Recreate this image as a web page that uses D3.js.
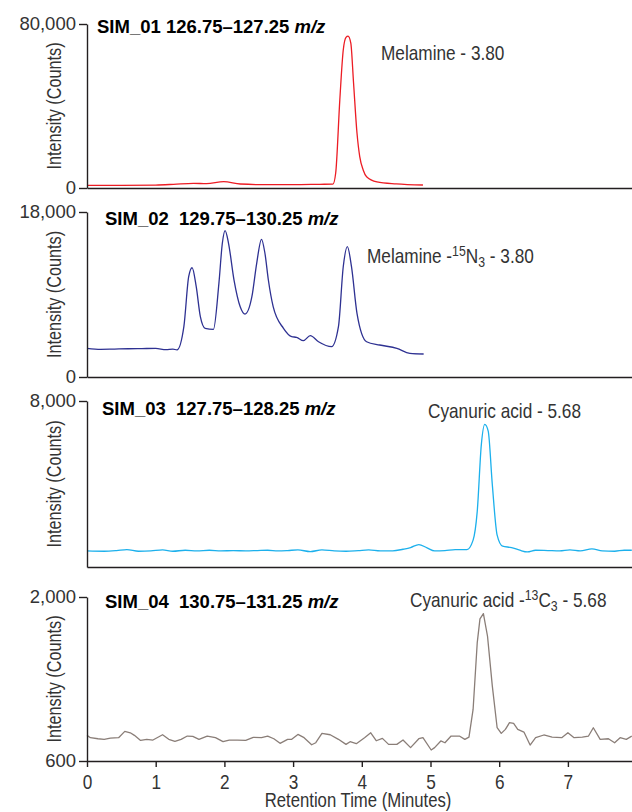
<!DOCTYPE html>
<html>
<head>
<meta charset="utf-8">
<script src="https://cdn.jsdelivr.net/npm/d3@7"></script>
<style>
  body { margin: 0; background: #fff; }
  svg { display: block; }
</style>
</head>
<body>
<svg id="chart" width="632" height="812"></svg>
<script>
// ---- Data: selected ion monitoring traces (retention time in minutes, intensity in counts) ----
const times1  = [0, 0.5, 1.0, 1.26, 1.55, 1.74, 1.99, 2.23, 2.62, 3.0, 3.39, 3.58, 3.62, 3.68, 3.73, 3.77, 3.80, 3.84, 3.88, 3.93, 3.97, 4.02, 4.07, 4.22, 4.5, 4.89];
const counts1 = [1300, 1300, 1450, 1800, 2300, 2100, 3070, 1950, 1600, 1600, 1800, 1900, 7300, 43000, 67300, 73500, 74100, 70700, 51200, 26800, 15300, 8800, 5500, 3000, 2000, 1460];

const times2  = [0, 0.2, 0.4, 0.6, 0.8, 1.0, 1.15, 1.25, 1.31, 1.41, 1.48, 1.53, 1.59, 1.65, 1.72, 1.84, 1.92, 1.97, 2.01, 2.06, 2.14, 2.23, 2.30, 2.40, 2.47, 2.54, 2.59, 2.64, 2.71, 2.86, 2.98, 3.05, 3.15, 3.25, 3.37, 3.56, 3.66, 3.73, 3.79, 3.85, 3.93, 4.07, 4.26, 4.51, 4.70, 4.90];
const counts2 = [3130, 3020, 3050, 3080, 3100, 3120, 2980, 3050, 2950, 5490, 10940, 11920, 9850, 6580, 5310, 5200, 10220, 14590, 15960, 14590, 10580, 7670, 6870, 8760, 12400, 15020, 13500, 10580, 7670, 5310, 4400, 4330, 3960, 4510, 3850, 3310, 5490, 12030, 14220, 12030, 6950, 3850, 3490, 3130, 2580, 2510];

const times3  = [0.00, 0.25, 0.43, 0.58, 0.75, 0.93, 1.10, 1.25, 1.43, 1.60, 1.78, 1.95, 2.13, 2.31, 2.48, 2.63, 2.78, 2.92, 3.07, 3.25, 3.42, 3.60, 3.77, 3.95, 4.10, 4.27, 4.45, 4.60, 4.71, 4.83, 4.95, 5.06, 5.21, 5.36, 5.53, 5.62, 5.68, 5.74, 5.79, 5.84, 5.90, 5.97, 6.05, 6.18, 6.30, 6.41, 6.53, 6.71, 6.88, 7.03, 7.18, 7.35, 7.50, 7.68, 7.82, 7.93];
const counts3 = [776, 760, 792, 840, 760, 776, 824, 760, 808, 776, 808, 776, 792, 776, 792, 808, 776, 792, 824, 743, 824, 776, 760, 792, 824, 776, 776, 856, 937, 1083, 921, 776, 792, 840, 840, 1293, 2667, 5899, 6869, 6545, 3960, 1535, 1002, 937, 808, 727, 808, 792, 776, 824, 776, 873, 776, 760, 808, 808];

const times4  = [0.00, 0.05, 0.16, 0.25, 0.34, 0.46, 0.55, 0.63, 0.69, 0.78, 0.87, 0.96, 1.10, 1.19, 1.28, 1.37, 1.46, 1.54, 1.63, 1.75, 1.87, 1.98, 2.07, 2.19, 2.31, 2.42, 2.54, 2.63, 2.72, 2.81, 2.92, 2.98, 3.07, 3.16, 3.27, 3.33, 3.42, 3.54, 3.66, 3.77, 3.83, 3.92, 4.04, 4.13, 4.21, 4.30, 4.39, 4.51, 4.60, 4.71, 4.83, 4.89, 5.01, 5.06, 5.15, 5.21, 5.30, 5.42, 5.50, 5.56, 5.62, 5.68, 5.72, 5.77, 5.83, 5.90, 5.97, 6.03, 6.09, 6.15, 6.21, 6.27, 6.36, 6.45, 6.53, 6.65, 6.77, 6.91, 7.00, 7.09, 7.21, 7.30, 7.37, 7.47, 7.59, 7.68, 7.76, 7.85, 7.93];
const counts4 = [819, 799, 790, 785, 796, 799, 853, 841, 819, 776, 785, 779, 824, 785, 768, 785, 813, 810, 785, 813, 799, 765, 779, 779, 776, 802, 799, 813, 790, 751, 785, 785, 827, 799, 739, 756, 836, 824, 785, 742, 765, 748, 799, 841, 773, 793, 742, 742, 779, 714, 790, 799, 694, 714, 771, 756, 813, 813, 785, 804, 1040, 1608, 1813, 1858, 1665, 1239, 884, 836, 870, 927, 921, 870, 847, 736, 799, 822, 804, 799, 841, 799, 804, 813, 884, 785, 790, 756, 799, 785, 813];

// Channel titles: [channel, m/z window]
const channels   = ["SIM_01", "SIM_02", "SIM_03", "SIM_04"];
const mzWindows  = ["126.75\u2013127.25", "129.75\u2013130.25", "127.75\u2013128.25", "130.75\u2013131.25"];
// Peak labels, split into [text, position] runs for isotope notation
const peakLabels = [
  [["Melamine - 3.80", ""]],
  [["Melamine -", ""], ["15", "sup"], ["N", ""], ["3", "sub"], [" - 3.80", ""]],
  [["Cyanuric acid - 5.68", ""]],
  [["Cyanuric acid -", ""], ["13", "sup"], ["C", ""], ["3", "sub"], [" - 5.68", ""]]
];
// Intensity axis extents and labelled ticks
const yMin   = [0, 0, 0, 600];
const yMax   = [80000, 18000, 8000, 2000];
const yTicks = [[0, 80000], [0, 18000], [8000], [600, 2000]];
// Retention time axis ticks (minutes)
const xTicks = [0, 1, 2, 3, 4, 5, 6, 7, 8];

// ---- Layout & style ----
const W = 632, H = 812;
const axisX = 87;
const minutePx = 68.7;
const panelTop    = [24, 212, 401, 597];
const panelBottom = [188, 377, 567, 761];
const titleX = [97, 105, 102, 105];
const titleY = [33, 225, 415, 608];
const labelX = [381, 367, 428, 410];
const labelY = [60, 263, 418, 607];
const colors = ["#ec1c24", "#2e3192", "#1cb0ec", "#8a7e78"];
const ink = "#231f20";
const sansFont = "'Liberation Sans', Arial, Helvetica, sans-serif";
const narrow = 0.82;   // horizontal squeeze giving a condensed face

const svg = d3.select("#chart");
svg.append("rect").attr("width", W).attr("height", H).attr("fill", "#fff");

const x = d3.scaleLinear().domain([0, 8]).range([axisX, axisX + 8 * minutePx]);

const series = [
  d3.zip(times1, counts1),
  d3.zip(times2, counts2),
  d3.zip(times3, counts3),
  d3.zip(times4, counts4)
];
const curves = [d3.curveMonotoneX, d3.curveMonotoneX, d3.curveMonotoneX, d3.curveLinear];

series.forEach((data, i) => {
  const y = d3.scaleLinear().domain([yMin[i], yMax[i]]).range([panelBottom[i], panelTop[i]]);
  const g = svg.append("g").attr("class", "panel");

  // Trace
  g.append("path")
    .datum(data)
    .attr("fill", "none")
    .attr("stroke", colors[i])
    .attr("stroke-width", 1.3)
    .attr("stroke-linejoin", "round")
    .attr("d", d3.line().x(d => x(d[0])).y(d => y(d[1])).curve(curves[i]));

  // Intensity axis
  const yAxis = g.append("g")
    .attr("transform", `translate(${axisX},0)`)
    .call(d3.axisLeft(y).tickValues(yTicks[i]).tickSize(8).tickSizeOuter(0)
      .tickPadding(3).tickFormat(d3.format(",")));

  // Retention time axis (labelled only on the bottom panel)
  const last = i === series.length - 1;
  const xAxis = g.append("g")
    .attr("transform", `translate(0,${panelBottom[i]})`)
    .call(d3.axisBottom(x).tickValues(last ? xTicks : []).tickSize(6).tickSizeOuter(0).tickPadding(7));

  [yAxis, xAxis].forEach(a => {
    a.selectAll("path, line").attr("stroke", ink).attr("stroke-width", 1.4);
    a.selectAll("text").attr("fill", "#333");
  });
  yAxis.selectAll("text").attr("font-family", sansFont).attr("font-size", 18.5).attr("dy", "0.3em");
  xAxis.selectAll("text")
    .attr("font-family", sansFont)
    .attr("font-size", 21)
    .attr("transform", `scale(${narrow},1)`);

  // Axis title
  g.append("text")
    .attr("transform", `translate(61,${(panelTop[i] + panelBottom[i]) / 2}) rotate(-90) scale(${narrow},1)`)
    .attr("text-anchor", "middle")
    .attr("font-family", sansFont)
    .attr("font-size", 19.8)
    .attr("fill", "#333")
    .text("Intensity (Counts)");

  // Channel title
  const t = g.append("text")
    .attr("x", titleX[i]).attr("y", titleY[i])
    .attr("font-family", sansFont)
    .attr("font-weight", "bold")
    .attr("font-size", 18.5)
    .attr("fill", "#000")
    .style("white-space", "pre");
  t.append("tspan").text(channels[i] + (i === 0 ? " " : "  ") + mzWindows[i] + " ");
  t.append("tspan").attr("font-style", "italic").text("m/z");

  // Peak label
  const lbl = g.append("text")
    .attr("transform", `translate(${labelX[i]},${labelY[i]}) scale(${narrow},1)`)
    .attr("font-family", sansFont)
    .attr("font-size", 21)
    .attr("fill", "#333")
    .style("white-space", "pre");
  let shift = 0;
  peakLabels[i].forEach(([str, pos]) => {
    const target = pos === "sup" ? -7 : pos === "sub" ? 4 : 0;
    lbl.append("tspan")
      .attr("dy", target - shift)
      .attr("font-size", pos ? 15 : 21)
      .text(str);
    shift = target;
  });
});

// Retention time axis title
svg.append("text")
  .attr("transform", `translate(358,807) scale(${narrow},1)`)
  .attr("text-anchor", "middle")
  .attr("font-family", sansFont)
  .attr("font-size", 20.4)
  .attr("fill", "#333")
  .text("Retention Time (Minutes)");
</script>
</body>
</html>
